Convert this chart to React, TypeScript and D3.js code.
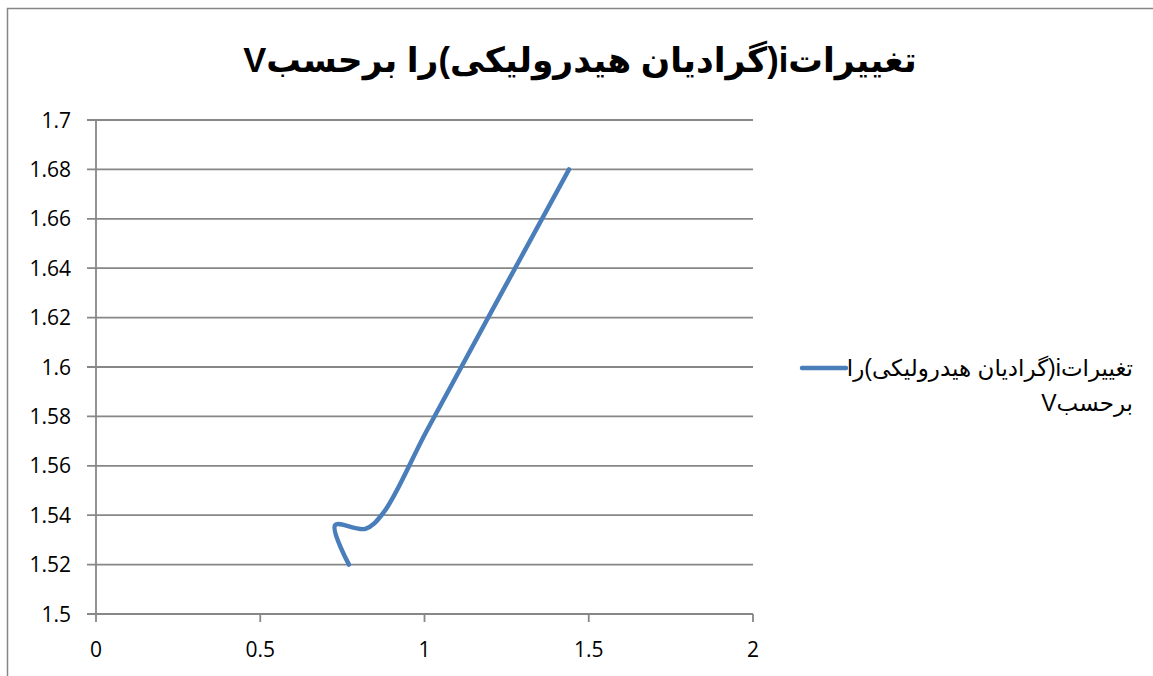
import React from "react";
import * as d3 from "d3";

const titleText = "تغییراتi(گرادیان هیدرولیکی)را برحسبV";
const legendLine1 = "تغییراتi(گرادیان هیدرولیکی)را";
const legendLine2 = "برحسبV";

const xTicks = [0, 0.5, 1, 1.5, 2];
const yTicks = [1.5, 1.52, 1.54, 1.56, 1.58, 1.6, 1.62, 1.64, 1.66, 1.68, 1.7];

const velocity = [0.77, 0.728, 0.82, 0.875, 1.006, 1.202, 1.44];
const gradient = [1.52, 1.536, 1.5345, 1.541, 1.574, 1.622, 1.68];

const W = 1153;
const H = 676;

export default function App() {
  const x = d3.scaleLinear().domain([0, 2]).range([96, 753]);
  const y = d3.scaleLinear().domain([1.5, 1.7]).range([614, 120]);
  const pts: [number, number][] = velocity.map((v, i) => [v, gradient[i]]);
  const line = d3
    .line<[number, number]>()
    .x((d) => x(d[0]))
    .y((d) => y(d[1]))
    .curve(d3.curveCatmullRom.alpha(0.5));
  const font = "'Liberation Sans', Arial, 'DejaVu Sans', sans-serif";
  const tickFont = "'Open Sans', 'Liberation Sans', sans-serif";
  return (
    <svg
      width={W}
      height={H}
      style={{ position: "absolute", left: 0, top: 0, background: "#fff" }}
    >
      <rect x={7.5} y={8.5} width={1150} height={700} fill="#fff" stroke="#868686" strokeWidth={1.5} />
      <text
        x={580}
        y={72}
        textAnchor="middle"
        direction="rtl"
        style={{ direction: "rtl", unicodeBidi: "embed" }}
        fontFamily={font}
        fontWeight="bold"
        fontSize={34.5}
        fill="#000"
      >
        {titleText}
      </text>
      {yTicks.map((t) => (
        <g key={"y" + t}>
          <line x1={87} x2={753} y1={y(t)} y2={y(t)} stroke="#878787" strokeWidth={1.8} />
          <text
            x={71}
            y={y(t)}
            dy="0.36em"
            textAnchor="end"
            fontFamily={tickFont}
            fontSize={21}
            fill="#000"
          >
            {d3.format("")(t)}
          </text>
        </g>
      ))}
      <line x1={96} x2={96} y1={120} y2={614} stroke="#878787" strokeWidth={1.8} />
      {xTicks.map((t) => (
        <g key={"x" + t}>
          <line x1={x(t)} x2={x(t)} y1={614} y2={622} stroke="#878787" strokeWidth={1.8} />
          <text
            x={x(t)}
            y={649}
            dy="0.36em"
            textAnchor="middle"
            fontFamily={tickFont}
            fontSize={21}
            fill="#000"
          >
            {d3.format("")(t)}
          </text>
        </g>
      ))}
      <path
        d={line(pts) || ""}
        fill="none"
        stroke="#4A7EBB"
        strokeWidth={4.5}
        strokeLinecap="round"
        strokeLinejoin="round"
      />
      <line x1={802} x2={846} y1={368} y2={368} stroke="#4A7EBB" strokeWidth={4.5} strokeLinecap="round" />
      <text
        x={1133}
        y={368}
        dy="0.36em"
        textAnchor="start"
        direction="rtl"
        style={{ direction: "rtl", unicodeBidi: "embed" }}
        fontFamily={font}
        fontSize={23}
        fill="#000"
      >
        {legendLine1}
      </text>
      <text
        x={1133}
        y={403}
        dy="0.36em"
        textAnchor="start"
        direction="rtl"
        style={{ direction: "rtl", unicodeBidi: "embed" }}
        fontFamily={font}
        fontSize={23}
        fill="#000"
      >
        {legendLine2}
      </text>
    </svg>
  );
}
